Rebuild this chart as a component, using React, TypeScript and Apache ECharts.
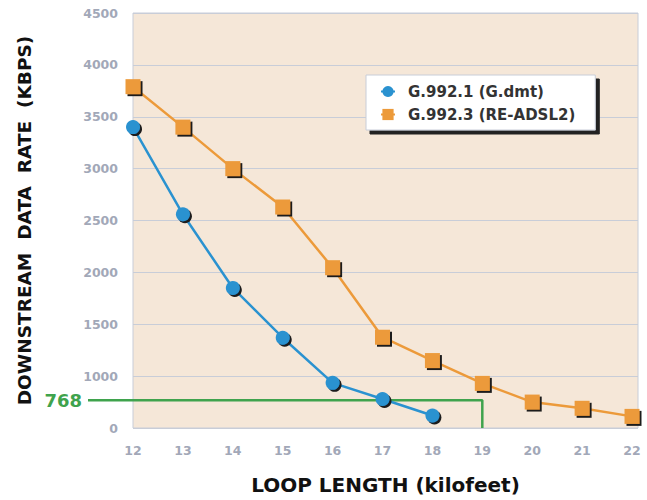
import React, { useEffect, useRef } from "react";
import * as echarts from "echarts";

const loopLengths = [12, 13, 14, 15, 16, 17, 18, 19, 20, 21, 22];
const gdmtRates = [3400, 2560, 1850, 1370, 935, 780, 620];
const readsl2Rates = [3790, 3400, 3000, 2630, 2045, 1375, 1150, 930, 750, 690, 612];
const thresholdRate = 768;
const thresholdLength = 19;
const seriesNames = ["G.992.1 (G.dmt)", "G.992.3 (RE-ADSL2)"];

export default function App() {
  const ref = useRef<HTMLDivElement>(null);
  useEffect(() => {
    if (!ref.current) return;
    const chart = echarts.init(ref.current, undefined, { renderer: "svg" });
    const shadow = { shadowColor: "#1a1a1a", shadowOffsetX: 2, shadowOffsetY: 2, shadowBlur: 0 };
    const axisLabel = { color: "#a2a8b8", fontWeight: "bold", fontSize: 12.5, fontFamily: "DejaVu Sans" };
    const green = "#3fa34d";
    chart.setOption({
      animation: false,
      backgroundColor: "#ffffff",
      grid: {
        left: 133, top: 13, right: 9, bottom: 69,
        show: true, backgroundColor: "#f5e7d8", borderColor: "#c8cdd8", borderWidth: 1,
      },
      legend: {
        data: seriesNames,
        orient: "vertical",
        left: 366, top: 75,
        padding: [9, 20, 8, 14],
        itemWidth: 14, itemHeight: 14, itemGap: 8,
        backgroundColor: "#ffffff",
        borderColor: "#c8cdd8", borderWidth: 1,
        shadowColor: "#222", shadowOffsetX: 4, shadowOffsetY: 4, shadowBlur: 0,
        textStyle: { color: "#333", fontSize: 15, fontWeight: "bold", fontFamily: "DejaVu Sans", padding: [0, 0, 0, 8] },
      },
      xAxis: {
        type: "value", min: 12, max: 22.12, interval: 1,
        name: "LOOP LENGTH (kilofeet)", nameLocation: "middle", nameGap: 47,
        nameTextStyle: { color: "#111", fontSize: 20, fontWeight: "bold", fontFamily: "DejaVu Sans" },
        axisLine: { show: false }, axisTick: { show: false }, splitLine: { show: false },
        axisLabel: { ...axisLabel, margin: 16, formatter: (v: number) => (Number.isInteger(v) ? String(v) : "") },
      },
      yAxis: {
        type: "value", min: 500, max: 4500, interval: 500,
        name: "DOWNSTREAM  DATA  RATE  (KBPS)", nameLocation: "middle", nameGap: 99,
        nameTextStyle: { color: "#111", fontSize: 18.5, fontWeight: "bold", fontFamily: "DejaVu Sans" },
        axisLine: { show: false }, axisTick: { show: false },
        splitLine: { lineStyle: { color: "#c8cdd8", width: 1 } },
        axisLabel: { ...axisLabel, margin: 15, formatter: (v: number) => (v === 500 ? "0" : String(v)) },
      },
      series: [
        {
          name: "threshold", type: "line", clip: false, symbol: "none", silent: true,
          data: [[12, thresholdRate], [thresholdLength, thresholdRate], [thresholdLength, 500]],
          lineStyle: { color: green, width: 2.5 }, z: 1,
        },
        {
          name: seriesNames[0], type: "line", symbol: "circle", symbolSize: 14, clip: false,
          data: gdmtRates.map((v, i) => [loopLengths[i], v]),
          lineStyle: { color: "#2a92d0", width: 2.5 },
          itemStyle: { color: "#2a92d0", ...shadow }, z: 3,
        },
        {
          name: seriesNames[1], type: "line", symbol: "rect", symbolSize: 15, clip: false,
          data: readsl2Rates.map((v, i) => [loopLengths[i], v]),
          lineStyle: { color: "#ec9a3a", width: 2.5 },
          itemStyle: { color: "#ec9a3a", ...shadow }, z: 2,
        },
      ],
    });
    const p = chart.convertToPixel({ xAxisIndex: 0, yAxisIndex: 0 }, [loopLengths[0], thresholdRate]) as number[];
    chart.setOption({
      graphic: [
        {
          type: "line", silent: true,
          shape: { x1: 88, y1: p[1], x2: p[0], y2: p[1] },
          style: { stroke: green, lineWidth: 2.5 },
        },
        {
          type: "text", silent: true, x: 82, y: p[1],
          style: {
            text: String(thresholdRate), fill: green, fontSize: 18, fontWeight: "bold",
            fontFamily: "DejaVu Sans", align: "right", verticalAlign: "middle",
          },
        },
      ],
    });
    return () => chart.dispose();
  }, []);
  return <div ref={ref} style={{ position: "fixed", left: 0, top: 0, width: 647, height: 500 }} />;
}
